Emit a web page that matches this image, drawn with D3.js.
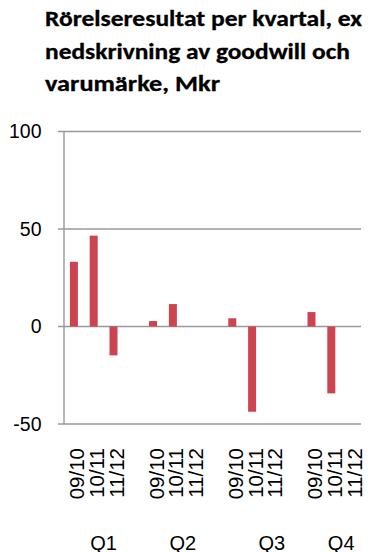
<!DOCTYPE html>
<html>
<head>
<meta charset="utf-8">
<script src="https://cdn.jsdelivr.net/npm/d3@7"></script>
<style>
  html, body { margin: 0; padding: 0; background: #fff; }
  svg { display: block; }
</style>
</head>
<body>
<svg id="chart" width="368" height="552"></svg>
<script>
// Operating result per quarter, excluding goodwill/brand write-downs (MSEK)
const titleLines = ["Rörelseresultat per kvartal, ex", "nedskrivning av goodwill och", "varumärke, Mkr"];
const quarters = ["Q1", "Q2", "Q3", "Q4"];
const years = ["09/10", "10/11", "11/12"];
const values0910 = [33.2, 2.8, 4.2, 7.4];
const values1011 = [46.6, 11.5, -43.7, -34.3];
const values1112 = [-14.8, null, null, null];
const yTicks = [-50, 0, 50, 100];

const seriesValues = [values0910, values1011, values1112];

// Flat category list: three years per quarter, with an empty slot between quarters
const slots = [];
quarters.forEach((q, qi) => {
  years.forEach((yr, yi) => {
    slots.push({ key: q + "|" + yr, quarter: q, year: yr, value: seriesValues[yi][qi], yi });
  });
  if (qi < quarters.length - 1) slots.push({ key: "gap" + qi, gap: true });
});

const svg = d3.select("#chart");
const plotLeft = 64, plotRight = 361, plotTop = 131.5, plotBottom = 424;

const x = d3.scaleBand().domain(slots.map(d => d.key)).range([plotLeft, plotRight]).padding(0);
const y = d3.scaleLinear().domain([-50, 100]).range([plotBottom, plotTop]);

const gridColor = "#999";
const barColor = "#cc4450";

// Title
const title = svg.append("g")
  .attr("font-family", "Calibri, Carlito, Lato, sans-serif")
  .attr("font-weight", "bold")
  .attr("font-size", 21.5)
  .attr("fill", "#000")
  .attr("stroke", "#000")
  .attr("stroke-width", 0.3);
const titleWidths = [317, 305, 175];
titleLines.forEach((t, i) => {
  title.append("text")
    .attr("x", 45)
    .attr("y", 26 + i * 32.5)
    .attr("textLength", titleWidths[i])
    .attr("lengthAdjust", "spacingAndGlyphs")
    .text(t);
});

// Horizontal gridlines with outward tick marks
svg.append("g")
  .selectAll("line")
  .data(yTicks)
  .join("line")
  .attr("x1", plotLeft - 6)
  .attr("x2", plotRight)
  .attr("y1", d => y(d))
  .attr("y2", d => y(d))
  .attr("stroke", gridColor)
  .attr("stroke-width", 1.4);

// Vertical axis line
svg.append("line")
  .attr("x1", plotLeft).attr("x2", plotLeft)
  .attr("y1", y(100)).attr("y2", y(-50))
  .attr("stroke", gridColor)
  .attr("stroke-width", 1.4);

// Y tick labels
svg.append("g")
  .attr("font-family", "Arial, 'Liberation Sans', sans-serif")
  .attr("font-size", 19.5)
  .attr("fill", "#000")
  .attr("text-anchor", "end")
  .selectAll("text")
  .data(yTicks)
  .join("text")
  .attr("x", 41.5)
  .attr("y", d => y(d))
  .attr("dy", "0.35em")
  .text(d => d);

// Bars
const barW = 8;
svg.append("g")
  .selectAll("rect")
  .data(slots.filter(d => !d.gap && d.value != null))
  .join("rect")
  .attr("x", d => x(d.key) + x.bandwidth() / 2 - barW / 2)
  .attr("width", barW)
  .attr("y", d => y(Math.max(0, d.value)))
  .attr("height", d => Math.abs(y(d.value) - y(0)))
  .attr("fill", barColor);

// Year labels, rotated
svg.append("g")
  .attr("font-family", "Arial, 'Liberation Sans', sans-serif")
  .attr("font-size", 20.5)
  .attr("fill", "#000")
  .selectAll("text")
  .data(slots.filter(d => !d.gap))
  .join("text")
  .attr("transform", d => `translate(${x(d.key) + x.bandwidth() / 2 + 3},448) rotate(-90)`)
  .attr("text-anchor", "end")
  .attr("dominant-baseline", "central")
  .text(d => d.year);

// Quarter labels (Q3's label sits over its last bar)
svg.append("g")
  .attr("font-family", "Arial, 'Liberation Sans', sans-serif")
  .attr("font-size", 20)
  .attr("fill", "#000")
  .attr("text-anchor", "middle")
  .selectAll("text")
  .data(quarters)
  .join("text")
  .attr("x", q => q === "Q3"
    ? x(q + "|" + years[2]) + x.bandwidth() / 2
    : x(q + "|" + years[2]))
  .attr("y", 549.5)
  .text(q => q);
</script>
</body>
</html>
